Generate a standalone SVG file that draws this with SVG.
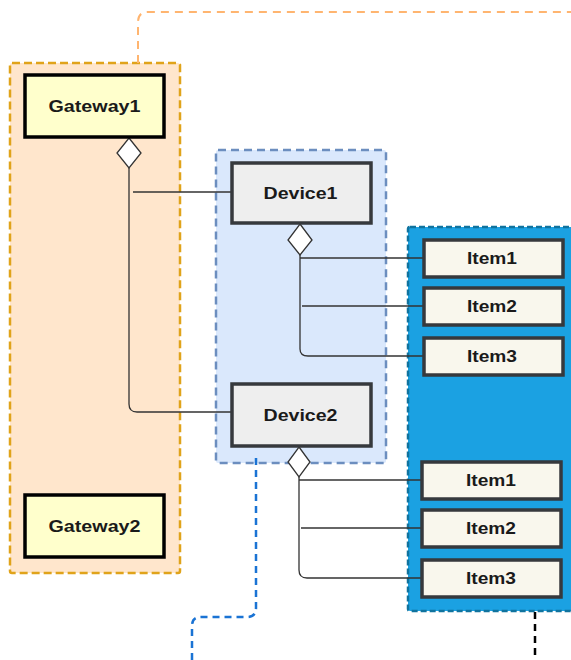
<svg xmlns="http://www.w3.org/2000/svg" width="571" height="660" viewBox="0 0 571 660">
  <style>
    .lbl { font-family: "Liberation Sans", Arial, sans-serif; font-weight: bold; font-size: 16.5px; fill: #1a1a1a; text-anchor: middle; }
    .gw { fill: #FFFFCC; stroke: #000000; stroke-width: 3.5; }
    .dev { fill: #EEEEEE; stroke: #36393D; stroke-width: 3.5; }
    .item { fill: #F9F7ED; stroke: #36393D; stroke-width: 3.5; }
    .link { fill: none; stroke: #333333; stroke-width: 1.3; }
    .dia { fill: #FFFFFF; stroke: #333333; stroke-width: 1.3; }
  </style>

  <!-- containers -->
  <g id="gateway-zone">
    <rect x="10" y="63" width="170" height="510" rx="2" fill="#FFE6CC" stroke="#E0A31A" stroke-width="2.5" stroke-dasharray="8 4"/>
  </g>
  <g id="device-zone">
    <rect x="216" y="150" width="170" height="313" rx="2" fill="#DAE8FC" stroke="#6C8EBF" stroke-width="2.5" stroke-dasharray="8 5"/>
  </g>
  <g id="item-zone">
    <rect x="408" y="227" width="175" height="384" rx="2" fill="#1BA1E2" stroke="#10739E" stroke-width="2.5" stroke-dasharray="6 3"/>
  </g>

  <!-- connectors -->
  <g id="connectors">
    <path class="link" d="M129,168 V404 Q129,412 137,412 H232"/>
    <path class="link" d="M133,192 H232"/>
    <path class="link" d="M300,255 V349 Q300,356 308,356 H423"/>
    <path class="link" d="M300,258 H423"/>
    <path class="link" d="M302,306 H423"/>
    <path class="link" d="M299,477 V570 Q299,578 307,578 H421"/>
    <path class="link" d="M299,480 H421"/>
    <path class="link" d="M301,528 H421"/>
    <polygon class="dia" points="129,138 141,153 129,168 117,153"/>
    <polygon class="dia" points="300,224 312,240 300,255 288,240"/>
    <polygon class="dia" points="299,447 310,462 299,477 288,462"/>
    <path d="M138,63 V22 Q138,12 148,12 H571" fill="none" stroke="#FFB570" stroke-width="2" stroke-dasharray="8 6"/>
    <path d="M256,458 V608 Q256,617 247,617 H201 Q192,617 192,626 V660" fill="none" stroke="#1A73D4" stroke-width="2.5" stroke-dasharray="7 5"/>
    <path d="M535,612 V660" fill="none" stroke="#000000" stroke-width="2.5" stroke-dasharray="7 5"/>
  </g>

  <!-- nodes -->
  <g id="gateway1">
    <rect class="gw" x="25" y="75" width="139" height="62"/>
    <text class="lbl" x="94.5" y="111.5" textLength="92" lengthAdjust="spacingAndGlyphs">Gateway1</text>
  </g>
  <g id="gateway2">
    <rect class="gw" x="25" y="495" width="139" height="62"/>
    <text class="lbl" x="94.5" y="531.5" textLength="92" lengthAdjust="spacingAndGlyphs">Gateway2</text>
  </g>
  <g id="device1">
    <rect class="dev" x="232" y="163" width="139" height="60"/>
    <text class="lbl" x="300.5" y="199" textLength="74" lengthAdjust="spacingAndGlyphs">Device1</text>
  </g>
  <g id="device2">
    <rect class="dev" x="232" y="384" width="139" height="62"/>
    <text class="lbl" x="300.5" y="421" textLength="74" lengthAdjust="spacingAndGlyphs">Device2</text>
  </g>
  <g id="item1-a">
    <rect class="item" x="424" y="240" width="139" height="37"/>
    <text class="lbl" x="492" y="264" textLength="50" lengthAdjust="spacingAndGlyphs">Item1</text>
  </g>
  <g id="item2-a">
    <rect class="item" x="424" y="288" width="139" height="37"/>
    <text class="lbl" x="492" y="312" textLength="50" lengthAdjust="spacingAndGlyphs">Item2</text>
  </g>
  <g id="item3-a">
    <rect class="item" x="424" y="338" width="139" height="37"/>
    <text class="lbl" x="492" y="362" textLength="50" lengthAdjust="spacingAndGlyphs">Item3</text>
  </g>
  <g id="item1-b">
    <rect class="item" x="422" y="462" width="139" height="37"/>
    <text class="lbl" x="491" y="486" textLength="50" lengthAdjust="spacingAndGlyphs">Item1</text>
  </g>
  <g id="item2-b">
    <rect class="item" x="422" y="510" width="139" height="37"/>
    <text class="lbl" x="491" y="534" textLength="50" lengthAdjust="spacingAndGlyphs">Item2</text>
  </g>
  <g id="item3-b">
    <rect class="item" x="422" y="560" width="139" height="37"/>
    <text class="lbl" x="491" y="584" textLength="50" lengthAdjust="spacingAndGlyphs">Item3</text>
  </g>
</svg>
